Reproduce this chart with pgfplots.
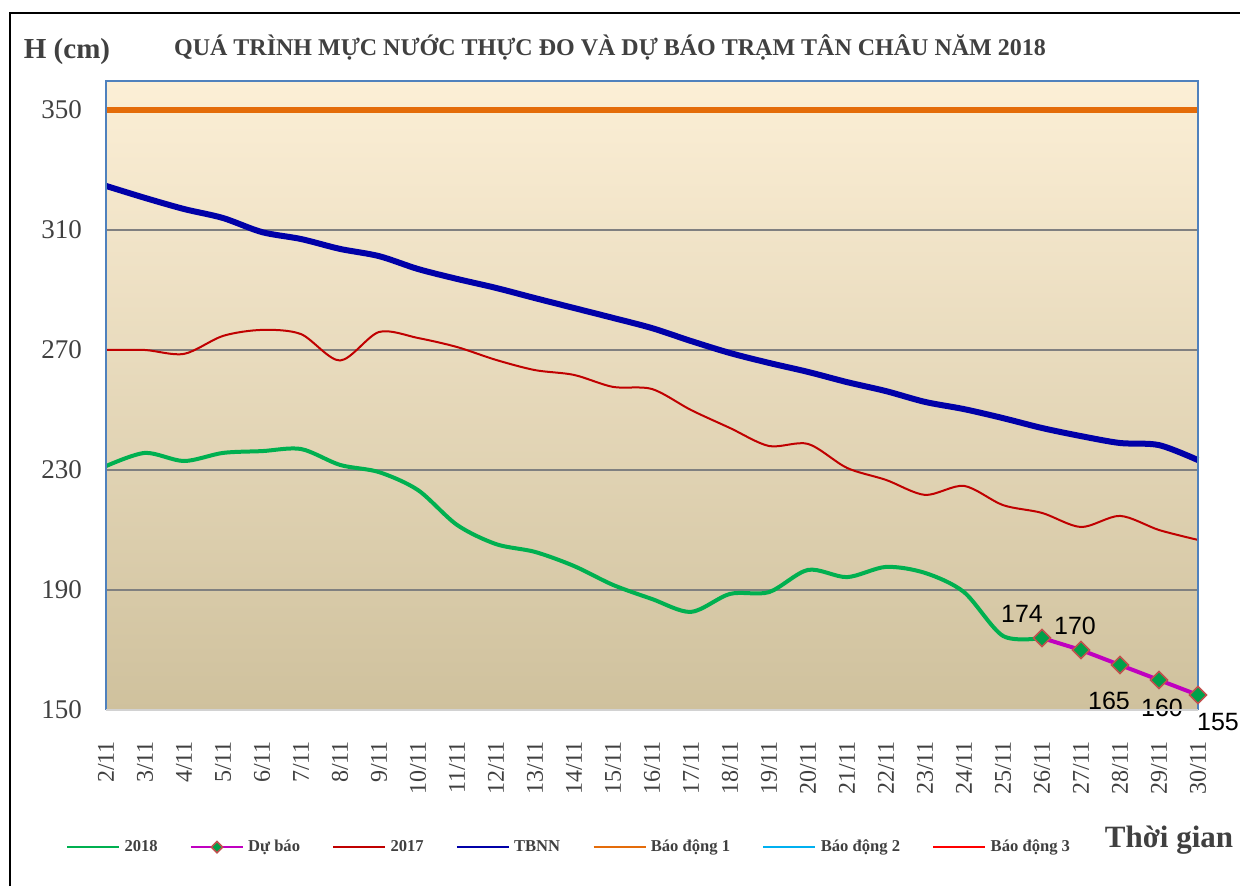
\documentclass[border=0pt]{standalone}
\usepackage{fontspec}
\setmainfont{Liberation Serif}
\newfontfamily\arial{Liberation Sans}
\usepackage{pgfplots}
\pgfplotsset{compat=1.18}
\definecolor{txt}{HTML}{404040}
\definecolor{c2018}{HTML}{00B050}
\definecolor{cfc}{HTML}{C000C0}
\definecolor{c2017}{HTML}{C00000}
\definecolor{ctbnn}{HTML}{0000A8}
\definecolor{cbd1}{HTML}{E46C0A}
\definecolor{cbd2}{HTML}{00B0F0}
\definecolor{cbd3}{HTML}{FF0000}
\definecolor{cmark}{HTML}{00A04A}
\definecolor{cmarkedge}{HTML}{C0504D}
\definecolor{bgtop}{HTML}{FCEFD6}
\definecolor{bgbot}{HTML}{CFC19D}
\definecolor{gridc}{HTML}{808080}
\definecolor{boxc}{HTML}{4F81BD}

\begin{document}
\begin{tikzpicture}
% pixel grid of the reference: 1 px = 0.5 pt, y downwards
\begin{scope}[x=0.5pt,y=-0.5pt]
\draw[line width=1.1pt] (10,886) -- (10,13) -- (1240,13);
\coordinate (SW) at (106,710);
\node[font=\bfseries\fontsize{14.5}{17}\selectfont, text=txt] at (67,52) {H (cm)};
\node[font=\bfseries\fontsize{12}{14}\selectfont, text=txt] at (610,47)
  {QUÁ TRÌNH MỰC NƯỚC THỰC ĐO VÀ DỰ BÁO TRẠM TÂN CHÂU NĂM 2018};
\node[font=\bfseries\fontsize{15.5}{18}\selectfont, text=txt] at (1169,840) {Thời gian};
\end{scope}

\begin{axis}[
    at={(SW)}, anchor=south west,
    scale only axis,
    width=546pt, height=314.5pt,
    xmin=2, xmax=30,
    ymin=150, ymax=359.67,
    clip=false,
    xtick={2,...,30},
    xticklabels={2/11,3/11,4/11,5/11,6/11,7/11,8/11,9/11,10/11,11/11,12/11,13/11,14/11,15/11,16/11,17/11,18/11,19/11,20/11,21/11,22/11,23/11,24/11,25/11,26/11,27/11,28/11,29/11,30/11},
    ytick={150,190,230,270,310,350},
    /pgf/number format/assume math mode=true,
    ymajorgrids,
    grid style={color=gridc, line width=0.8pt},
    tick style={draw=none},
    axis line style={draw=none},
    axis background/.style={shade, top color=bgtop, bottom color=bgbot},
    xticklabel style={font=\fontsize{12}{14}\selectfont, text=txt, anchor=east, yshift=-12pt, rotate=90},
    yticklabel style={font=\fontsize{13.5}{16}\selectfont, text=txt, xshift=-8.5pt},
    legend columns=-1,
    legend style={draw=none, fill=none, at={(0.425,-0.218)}, anchor=center,
      font=\bfseries\fontsize{8.3}{10}\selectfont, text=txt,
      /tikz/every even column/.append style={column sep=14pt}},
    legend image code/.code={\draw[mark repeat=2,mark phase=2,#1] plot coordinates {(0pt,0pt) (13pt,0pt) (26pt,0pt)};},
]
% Bao dong 1
\addplot[cbd1, line width=2.6pt, forget plot] coordinates {
  (2,350) (3,350) (4,350) (5,350) (6,350) (7,350) (8,350) (9,350) (10,350)
  (11,350) (12,350) (13,350) (14,350) (15,350) (16,350) (17,350) (18,350)
  (19,350) (20,350) (21,350) (22,350) (23,350) (24,350) (25,350) (26,350)
  (27,350) (28,350) (29,350) (30,350)
};
% TBNN
\addplot[ctbnn, line width=3pt, smooth, forget plot] coordinates {
  (2,324.7) (3,320.7) (4,317.0) (5,314.0) (6,309.3) (7,307.0) (8,303.7)
  (9,301.3) (10,297.0) (11,293.7) (12,290.7) (13,287.3) (14,284.0) (15,280.7)
  (16,277.3) (17,273.0) (18,269.0) (19,265.7) (20,262.7) (21,259.3) (22,256.3)
  (23,252.7) (24,250.3) (25,247.3) (26,244.0) (27,241.3) (28,239.0) (29,238.3)
  (30,233.3)
};
% 2017
\addplot[c2017, line width=1pt, smooth, forget plot] coordinates {
  (2,270.0) (3,270.0) (4,268.7) (5,274.7) (6,276.7) (7,275.3) (8,266.5)
  (9,276.0) (10,274.0) (11,271.0) (12,266.7) (13,263.3) (14,261.7) (15,257.7)
  (16,257.0) (17,250.0) (18,244.0) (19,238.0) (20,238.7) (21,230.7) (22,226.7)
  (23,221.7) (24,224.7) (25,218.3) (26,215.7) (27,211.0) (28,214.7) (29,210.0)
  (30,206.7)
};
% 2018
\addplot[c2018, line width=2pt, smooth, forget plot] coordinates {
  (2,231.3) (3,235.7) (4,233.0) (5,235.7) (6,236.3) (7,237.0) (8,231.7)
  (9,229.3) (10,223.3) (11,211.7) (12,205.3) (13,202.7) (14,198.0) (15,191.7)
  (16,187.0) (17,182.7) (18,188.7) (19,189.3) (20,196.7) (21,194.3) (22,197.7)
  (23,195.7) (24,189.3) (25,174.7) (26,174.0)
};
% Du bao
\addplot[cfc, line width=2pt, mark=square*, mark size=3pt,
  mark options={rotate=45, fill=cmark, draw=cmarkedge, line width=0.8pt}, forget plot]
  coordinates {(26,174) (27,170) (28,165) (29,160) (30,155)};

\node[font=\arial\fontsize{12.5}{14}\selectfont, xshift=-10pt, yshift=12pt] at (axis cs:26,174) {174};
\node[font=\arial\fontsize{12.5}{14}\selectfont, xshift=-3pt, yshift=12pt] at (axis cs:27,170) {170};
\node[font=\arial\fontsize{12.5}{14}\selectfont, xshift=-5.5pt, yshift=-18pt] at (axis cs:28,165) {165};
\node[font=\arial\fontsize{12.5}{14}\selectfont, xshift=1.5pt, yshift=-14pt] at (axis cs:29,160) {160};
\node[font=\arial\fontsize{12.5}{14}\selectfont, xshift=10pt, yshift=-13.5pt] at (axis cs:30,155) {155};

\draw[boxc, line width=0.8pt] (rel axis cs:0,0) -- (rel axis cs:0,1) -- (rel axis cs:1,1) -- (rel axis cs:1,0);
\draw[gray!35, line width=1pt] (rel axis cs:0,0) -- (rel axis cs:1,0);

\addlegendimage{c2018, line width=1.2pt}
\addlegendentry{2018}
\addlegendimage{cfc, line width=1.2pt, mark=square*, mark size=2pt,
  mark options={rotate=45, fill=cmark, draw=cmarkedge, line width=0.8pt}}
\addlegendentry{Dự báo}
\addlegendimage{c2017, line width=1.2pt}
\addlegendentry{2017}
\addlegendimage{ctbnn, line width=1.2pt}
\addlegendentry{TBNN}
\addlegendimage{cbd1, line width=1.3pt}
\addlegendentry{Báo động 1}
\addlegendimage{cbd2, line width=1.3pt}
\addlegendentry{Báo động 2}
\addlegendimage{cbd3, line width=1.3pt}
\addlegendentry{Báo động 3}
\end{axis}
\pgfresetboundingbox
\path[use as bounding box, x=0.5pt, y=-0.5pt] (0,0) rectangle (1241,887);
\end{tikzpicture}
\end{document}
